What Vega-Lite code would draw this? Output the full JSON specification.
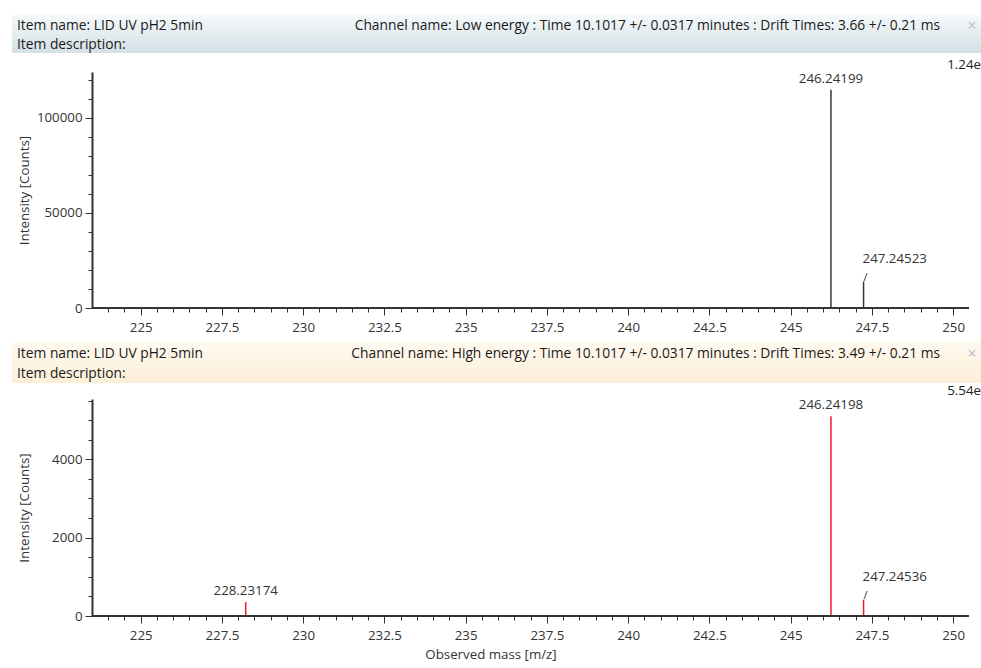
{
  "$schema": "https://vega.github.io/schema/vega-lite/v6.json",
  "padding": {"left": 12, "top": 15, "right": 0, "bottom": 0},
  "autosize": {"type": "pad"},
  "background": "#ffffff",
  "config": {
    "font": "Open Sans",
    "view": {"stroke": null},
    "axis": {"labelFont": "Open Sans", "titleFont": "Open Sans", "labelFontSize": 13.3, "titleFontSize": 13.3, "titleFontWeight": "normal", "labelColor": "#333333", "titleColor": "#333333", "tickColor": "#333333", "domainColor": "#333333", "grid": false},
    "text": {"font": "Open Sans", "fontSize": 13.3, "color": "#222222"}
  },
  "datasets": {
    "hdrLow": [
      {"line": 1, "side": "left", "text": "Item name: LID UV pH2 5min"},
      {"line": 2, "side": "left", "text": "Item description:"},
      {"line": 1, "side": "right", "text": "Channel name: Low energy : Time 10.1017 +/- 0.0317 minutes : Drift Times: 3.66 +/- 0.21 ms"},
      {"line": 1, "side": "icon", "text": "×"}
    ],
    "hdrHigh": [
      {"line": 1, "side": "left", "text": "Item name: LID UV pH2 5min"},
      {"line": 2, "side": "left", "text": "Item description:"},
      {"line": 1, "side": "right", "text": "Channel name: High energy : Time 10.1017 +/- 0.0317 minutes : Drift Times: 3.49 +/- 0.21 ms"},
      {"line": 1, "side": "icon", "text": "×"}
    ],
    "low": [
      {"mz": 246.24199, "intensity": 114700},
      {"mz": 247.24523, "intensity": 13900}
    ],
    "high": [
      {"mz": 228.23174, "intensity": 355},
      {"mz": 246.24198, "intensity": 5100},
      {"mz": 247.24536, "intensity": 415}
    ]
  },
  "columns": 1,
  "spacing": 8,
  "bounds": "full",
  "concat": [
    {
      "columns": 1,
      "spacing": 5,
      "bounds": "full",
      "concat": [
        {
          "width": 969,
          "height": 38,
          "view": {"stroke": null, "fill": {"gradient": "linear", "x1": 0, "y1": 0, "x2": 0, "y2": 1, "stops": [{"offset": 0, "color": "#f6f9fa"}, {"offset": 1, "color": "#d3e0e6"}]}},
          "data": {"name": "hdrLow"},
          "layer": [
            {
              "transform": [{"filter": "datum.side == 'left'"}],
              "mark": {"type": "text", "align": "left", "baseline": "middle", "dx": 5, "fontSize": 13.8, "color": "#1a1a1a"},
              "encoding": {
                "x": {"datum": 0, "type": "quantitative", "scale": {"domain": [0, 1]}, "axis": null},
                "y": {"field": "line", "type": "ordinal", "scale": {"type": "point", "domain": [1, 2], "range": [11, 30], "padding": 0}, "axis": null},
                "text": {"field": "text"}
              }
            },
            {
              "transform": [{"filter": "datum.side == 'right'"}],
              "mark": {"type": "text", "align": "right", "baseline": "middle", "dx": -41, "fontSize": 13.8, "color": "#1a1a1a"},
              "encoding": {
                "x": {"datum": 1, "type": "quantitative", "axis": null},
                "y": {"field": "line", "type": "ordinal", "axis": null},
                "text": {"field": "text"}
              }
            },
            {
              "transform": [{"filter": "datum.side == 'icon'"}],
              "mark": {"type": "text", "align": "center", "baseline": "middle", "dx": -9, "fontSize": 16, "color": "#b4c0c9"},
              "encoding": {
                "x": {"datum": 1, "type": "quantitative", "axis": null},
                "y": {"field": "line", "type": "ordinal", "axis": null},
                "text": {"field": "text"}
              }
            }
          ]
        },
        {
          "width": 957,
          "height": 236,
          "data": {"name": "low"},
          "resolve": {"axis": {"x": "independent", "y": "independent"}},
          "layer": [
            {
              "mark": {"type": "rule", "color": "#383838", "strokeWidth": 1.5},
              "encoding": {
                "x": {"field": "mz", "type": "quantitative", "scale": {"domain": [221.04, 250.49], "nice": false, "zero": false},
                  "axis": {"orient": "bottom", "values": [225, 227.5, 230, 232.5, 235, 237.5, 240, 242.5, 245, 247.5, 250], "labelExpr": "format(datum.value, '~g')", "domain": false, "tickSize": 7, "labelPadding": 5, "title": null}},
                "y": {"field": "intensity", "type": "quantitative", "scale": {"domain": [0, 124000], "nice": false},
                  "axis": {"orient": "left", "values": [0, 50000, 100000], "format": "d", "offset": -80, "domainWidth": 2, "tickSize": 7, "labelPadding": 3, "title": "Intensity [Counts]", "titlePadding": 5}},
                "y2": {"datum": 0}
              }
            },
            {
              "data": {"values": [{}]},
              "mark": {"type": "rule", "color": "#333333", "strokeWidth": 2},
              "encoding": {
                "x": {"datum": 223.51, "type": "quantitative",
                  "axis": {"orient": "bottom", "values": [224, 224.5, 225, 225.5, 226, 226.5, 227, 227.5, 228, 228.5, 229, 229.5, 230, 230.5, 231, 231.5, 232, 232.5, 233, 233.5, 234, 234.5, 235, 235.5, 236, 236.5, 237, 237.5, 238, 238.5, 239, 239.5, 240, 240.5, 241, 241.5, 242, 242.5, 243, 243.5, 244, 244.5, 245, 245.5, 246, 246.5, 247, 247.5, 248, 248.5, 249, 249.5, 250], "labels": false, "domain": false, "tickSize": 4, "title": null}},
                "x2": {"datum": 250.49},
                "y": {"datum": 0, "type": "quantitative",
                  "axis": {"orient": "left", "values": [0, 10000, 20000, 30000, 40000, 50000, 60000, 70000, 80000, 90000, 100000, 110000, 120000], "labels": false, "domain": false, "tickSize": 4, "offset": -80, "title": null}}
              }
            },
            {
              "transform": [{"filter": "datum.mz < 247"}],
              "mark": {"type": "text", "align": "center", "baseline": "bottom", "dy": -4, "color": "#333333"},
              "encoding": {
                "x": {"field": "mz", "type": "quantitative", "axis": null},
                "y": {"field": "intensity", "type": "quantitative", "axis": null},
                "text": {"field": "mz", "type": "quantitative", "format": ".5f"}
              }
            },
            {
              "transform": [{"filter": "datum.mz >= 247"}],
              "mark": {"type": "text", "align": "left", "baseline": "bottom", "dx": -1, "dy": -16, "color": "#333333"},
              "encoding": {
                "x": {"field": "mz", "type": "quantitative", "axis": null},
                "y": {"field": "intensity", "type": "quantitative", "axis": null},
                "text": {"field": "mz", "type": "quantitative", "format": ".5f"}
              }
            },
            {
              "transform": [{"filter": "datum.mz >= 247"}],
              "mark": {"type": "text", "text": "/", "align": "center", "baseline": "bottom", "dx": 2, "dy": 1, "fontSize": 11, "color": "#333333"},
              "encoding": {
                "x": {"field": "mz", "type": "quantitative", "axis": null},
                "y": {"field": "intensity", "type": "quantitative", "axis": null}
              }
            },
            {
              "data": {"values": [{}]},
              "mark": {"type": "text", "text": "1.24e", "align": "right", "baseline": "alphabetic", "dx": 12, "dy": -3, "color": "#222222"},
              "encoding": {
                "x": {"datum": 250.49, "type": "quantitative", "axis": null},
                "y": {"datum": 124000, "type": "quantitative", "axis": null}
              }
            }
          ]
        }
      ]
    },
    {
      "columns": 1,
      "spacing": 1,
      "bounds": "full",
      "concat": [
        {
          "width": 969,
          "height": 41,
          "view": {"stroke": null, "fill": {"gradient": "linear", "x1": 0, "y1": 0, "x2": 0, "y2": 1, "stops": [{"offset": 0, "color": "#fff9ef"}, {"offset": 1, "color": "#fcefd9"}]}},
          "data": {"name": "hdrHigh"},
          "layer": [
            {
              "transform": [{"filter": "datum.side == 'left'"}],
              "mark": {"type": "text", "align": "left", "baseline": "middle", "dx": 5, "fontSize": 13.8, "color": "#1a1a1a"},
              "encoding": {
                "x": {"datum": 0, "type": "quantitative", "scale": {"domain": [0, 1]}, "axis": null},
                "y": {"field": "line", "type": "ordinal", "scale": {"type": "point", "domain": [1, 2], "range": [12, 32], "padding": 0}, "axis": null},
                "text": {"field": "text"}
              }
            },
            {
              "transform": [{"filter": "datum.side == 'right'"}],
              "mark": {"type": "text", "align": "right", "baseline": "middle", "dx": -41, "fontSize": 13.8, "color": "#1a1a1a"},
              "encoding": {
                "x": {"datum": 1, "type": "quantitative", "axis": null},
                "y": {"field": "line", "type": "ordinal", "axis": null},
                "text": {"field": "text"}
              }
            },
            {
              "transform": [{"filter": "datum.side == 'icon'"}],
              "mark": {"type": "text", "align": "center", "baseline": "middle", "dx": -9, "fontSize": 16, "color": "#b4c0c9"},
              "encoding": {
                "x": {"datum": 1, "type": "quantitative", "axis": null},
                "y": {"field": "line", "type": "ordinal", "axis": null},
                "text": {"field": "text"}
              }
            }
          ]
        },
        {
          "width": 957,
          "height": 217,
          "data": {"name": "high"},
          "resolve": {"axis": {"x": "independent", "y": "independent"}},
          "layer": [
            {
              "mark": {"type": "rule", "color": "#ef1c24", "strokeWidth": 1.5},
              "encoding": {
                "x": {"field": "mz", "type": "quantitative", "scale": {"domain": [221.04, 250.49], "nice": false, "zero": false},
                  "axis": {"orient": "bottom", "values": [225, 227.5, 230, 232.5, 235, 237.5, 240, 242.5, 245, 247.5, 250], "labelExpr": "format(datum.value, '~g')", "domain": false, "tickSize": 7, "labelPadding": 5, "title": "Observed mass [m/z]", "titlePadding": 6}},
                "y": {"field": "intensity", "type": "quantitative", "scale": {"domain": [0, 5540], "nice": false},
                  "axis": {"orient": "left", "values": [0, 2000, 4000], "format": "d", "offset": -80, "domainWidth": 2, "tickSize": 7, "labelPadding": 3, "title": "Intensity [Counts]", "titlePadding": 20}},
                "y2": {"datum": 0}
              }
            },
            {
              "data": {"values": [{}]},
              "mark": {"type": "rule", "color": "#333333", "strokeWidth": 2},
              "encoding": {
                "x": {"datum": 223.51, "type": "quantitative",
                  "axis": {"orient": "bottom", "values": [224, 224.5, 225, 225.5, 226, 226.5, 227, 227.5, 228, 228.5, 229, 229.5, 230, 230.5, 231, 231.5, 232, 232.5, 233, 233.5, 234, 234.5, 235, 235.5, 236, 236.5, 237, 237.5, 238, 238.5, 239, 239.5, 240, 240.5, 241, 241.5, 242, 242.5, 243, 243.5, 244, 244.5, 245, 245.5, 246, 246.5, 247, 247.5, 248, 248.5, 249, 249.5, 250], "labels": false, "domain": false, "tickSize": 4, "title": null}},
                "x2": {"datum": 250.49},
                "y": {"datum": 0, "type": "quantitative",
                  "axis": {"orient": "left", "values": [0, 500, 1000, 1500, 2000, 2500, 3000, 3500, 4000, 4500, 5000, 5500], "labels": false, "domain": false, "tickSize": 4, "offset": -80, "title": null}}
              }
            },
            {
              "transform": [{"filter": "datum.mz < 247"}],
              "mark": {"type": "text", "align": "center", "baseline": "bottom", "dy": -4, "color": "#333333"},
              "encoding": {
                "x": {"field": "mz", "type": "quantitative", "axis": null},
                "y": {"field": "intensity", "type": "quantitative", "axis": null},
                "text": {"field": "mz", "type": "quantitative", "format": ".5f"}
              }
            },
            {
              "transform": [{"filter": "datum.mz >= 247"}],
              "mark": {"type": "text", "align": "left", "baseline": "bottom", "dx": -1, "dy": -16, "color": "#333333"},
              "encoding": {
                "x": {"field": "mz", "type": "quantitative", "axis": null},
                "y": {"field": "intensity", "type": "quantitative", "axis": null},
                "text": {"field": "mz", "type": "quantitative", "format": ".5f"}
              }
            },
            {
              "transform": [{"filter": "datum.mz >= 247"}],
              "mark": {"type": "text", "text": "/", "align": "center", "baseline": "bottom", "dx": 2, "dy": 1, "fontSize": 11, "color": "#333333"},
              "encoding": {
                "x": {"field": "mz", "type": "quantitative", "axis": null},
                "y": {"field": "intensity", "type": "quantitative", "axis": null}
              }
            },
            {
              "data": {"values": [{}]},
              "mark": {"type": "text", "text": "5.54e", "align": "right", "baseline": "alphabetic", "dx": 12, "dy": -4, "color": "#222222"},
              "encoding": {
                "x": {"datum": 250.49, "type": "quantitative", "axis": null},
                "y": {"datum": 5540, "type": "quantitative", "axis": null}
              }
            }
          ]
        }
      ]
    }
  ]
}
